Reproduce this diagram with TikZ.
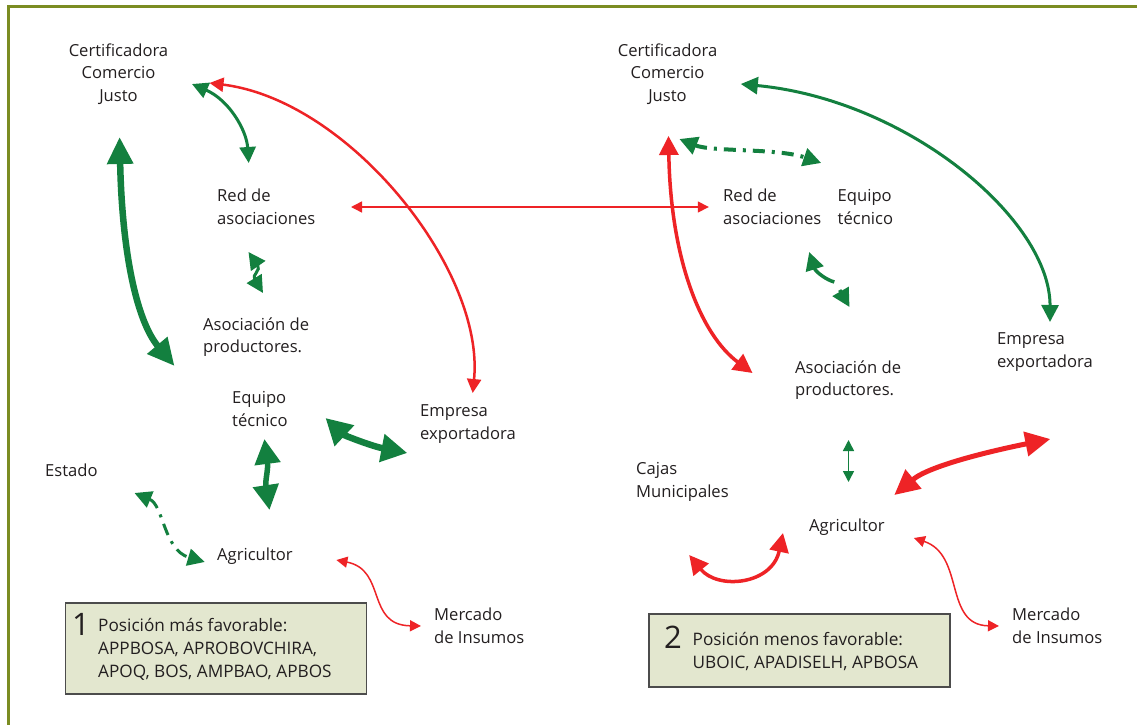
\documentclass[tikz,border=0pt]{standalone}
\usepackage{fontspec}
\setmainfont{Open Sans}
\usetikzlibrary{arrows.meta}
\definecolor{G}{HTML}{13803F}
\definecolor{R}{HTML}{EE2326}
\definecolor{OL}{HTML}{7B8C22}
\definecolor{BX}{HTML}{E3E7CF}
\definecolor{TX}{HTML}{231F20}
\tikzset{
  lbl/.style={font=\fontsize{16.6}{22.5}\selectfont, text=TX, inner sep=0pt, align=left, anchor=west},
  boxtxt/.style={font=\fontsize{17.2}{22.8}\selectfont, text=TX, inner sep=0pt, align=left, anchor=west},
  bignum/.style={font=\fontsize{31}{31}\selectfont, text=TX, inner sep=0pt},
  tipA/.style={{Triangle[length=#1pt,width=#1pt]}-{Triangle[length=#1pt,width=#1pt]}},
  gline/.style={draw=G, line width=#1pt},
  rline/.style={draw=R, line width=#1pt},
  dashdot/.style={dash pattern=on 12pt off 7pt on 3pt off 7pt},
  boxstyle/.style={draw=black!70, line width=1.5pt, fill=BX, inner sep=0pt, anchor=north west}
}
\begin{document}
\begin{tikzpicture}[x=1pt,y=-1pt]
\useasboundingbox (0,0) rectangle (1137,725);
\fill[white] (0,0) rectangle (1137,725);
% frame
\draw[OL, line width=3pt] (8,725) -- (8,6.5) -- (1137,6.5);

% ---------- left panel labels
\node[lbl, align=center, anchor=center] (Lcert) at (118.5,74) {Certificadora\\Comercio\\Justo};
\node[lbl] (Lred) at (217,207) {Red de\\asociaciones};
\node[lbl] (Lasoc) at (203,337) {Asociación de\\productores.};
\node[lbl] (Lequ) at (232,409) {Equipo\\técnico};
\node[lbl] (Lemp) at (420,424) {Empresa\\exportadora};
\node[lbl] (Lest) at (45,470) {Estado};
\node[lbl] (Lagr) at (217,556) {Agricultor};
\node[lbl] (Lmer) at (434,626) {Mercado\\de Insumos};
\node[boxstyle, minimum width=301pt, minimum height=91pt] (box1) at (64.5,602) {};
\node[bignum] (n1) at (81,624) {1};
\node[boxtxt] (t1) at (98,649.5) {Posición más favorable:\\APPBOSA, APROBOVCHIRA,\\APOQ, BOS, AMPBAO, APBOS};

% ---------- right panel labels
\node[lbl, align=center, anchor=center] (Rcert) at (667.5,74) {Certificadora\\Comercio\\Justo};
\node[lbl] (Rred) at (723,207) {Red de\\asociaciones};
\node[lbl] (Requ) at (837.5,207) {Equipo\\técnico};
\node[lbl] (Remp) at (997,352) {Empresa\\exportadora};
\node[lbl] (Rasoc) at (795,380) {Asociación de\\productores.};
\node[lbl] (Rcaj) at (636,482) {Cajas\\Municipales};
\node[lbl] (Ragr) at (809,527) {Agricultor};
\node[lbl] (Rmer) at (1012,626) {Mercado\\de Insumos};
\node[boxstyle, minimum width=301pt, minimum height=73pt] (box2) at (648,613) {};
\node[bignum] (n2) at (673,637) {2};
\node[boxtxt] (t2) at (692.5,651.5) {Posición menos favorable:\\UBOIC, APADISELH, APBOSA};

% ---------- connector end points (left)
\coordinate (a1) at (192,84);    \coordinate (b1) at (248.7,163);
\coordinate (a2) at (209.5,83);  \coordinate (b2) at (472.7,393);
\coordinate (a3) at (119.6,137); \coordinate (b3) at (174.5,366);
\coordinate (a4) at (248.5,252); \coordinate (b4) at (263,293);
\coordinate (a5) at (325.5,418); \coordinate (b5) at (407.3,453);
\coordinate (a6) at (264.4,439); \coordinate (b6) at (269.5,510);
\coordinate (a7) at (134.5,493); \coordinate (b7) at (204.7,562);
\coordinate (a8) at (336.4,560); \coordinate (b8) at (421,626);
\coordinate (a9) at (351,207);   \coordinate (b9) at (708.8,207);
% right
\coordinate (a10) at (740.8,84);  \coordinate (b10) at (1050,322);
\coordinate (a11) at (679.4,139); \coordinate (b11) at (821.2,163);
\coordinate (a12) at (668.5,136); \coordinate (b12) at (752.5,373);
\coordinate (a13) at (809.2,252); \coordinate (b13) at (834.3,282);
\coordinate (c13) at (839.7,290); \coordinate (d13) at (849.5,307);
\coordinate (a14) at (848.5,440); \coordinate (b14) at (848.5,482);
\coordinate (a15) at (894.3,495); \coordinate (b15) at (1050.3,439);
\coordinate (a16) at (689.2,555); \coordinate (b16) at (783,533);
\coordinate (a17) at (913.9,538); \coordinate (b17) at (999,626);

% ---------- connectors left
\draw[rline=1.5, tipA=11] (a9) -- (b9);
\draw[rline=2.5, tipA=14] (a2) .. controls (349,100) and (485,270) .. (b2);
\draw[gline=3, tipA=16] (a1) .. controls (229,100) and (246.5,130) .. (b1);
\draw[gline=6.5, {Triangle[length=27pt,width=25pt]}-{Triangle[length=27pt,width=25pt]}] (a3) .. controls (122,250) and (136,320) .. (b3);
\draw[gline=3, tipA=17] (a4) .. controls (261,270) and (252,275) .. (b4);
\draw[gline=6.5, {Triangle[length=26pt,width=27pt]}-{Triangle[length=26pt,width=27pt]}] (a5) .. controls (343.6,435) and (371,446) .. (b5);
\draw[gline=5.5, {Triangle[length=25pt,width=25pt]}-{Triangle[length=25pt,width=25pt]}] (a6) .. controls (268.4,470) and (265,480) .. (b6);
\draw[gline=3, dashdot, tipA=17] (a7) .. controls (163.6,505) and (163.6,550) .. (b7);
\draw[rline=1.5, tipA=11] (a8) .. controls (387,570) and (365.5,625) .. (b8);

% ---------- connectors right
\draw[gline=3, tipA=17] (a10) .. controls (908.5,100) and (1050.3,220) .. (b10);
\draw[gline=4, dashdot, tipA=18] (a11) .. controls (712,152) and (777.5,148) .. (b11);
\draw[rline=3.5, tipA=19] (a12) .. controls (670.6,260) and (701.2,335) .. (b12);
\draw[gline=3.5, {Triangle[length=18pt,width=18pt]}-] (a13) .. controls (815.7,272) and (826.6,280) .. (b13);
\draw[gline=3.5, -{Triangle[length=18pt,width=18pt]}] (c13) -- (d13);
\draw[gline=1.5, tipA=11] (a14) -- (b14);
\draw[rline=5, {Triangle[length=25pt,width=24pt]}-{Triangle[length=25pt,width=24pt]}] (a15) .. controls (930.3,465) and (995.7,450) .. (b15);
\draw[rline=3.5, tipA=19] (a16) .. controls (717.5,590) and (772,585) .. (b16);
\draw[rline=1.5, tipA=11] (a17) .. controls (965.2,555) and (943.4,625) .. (b17);
\end{tikzpicture}
\end{document}
